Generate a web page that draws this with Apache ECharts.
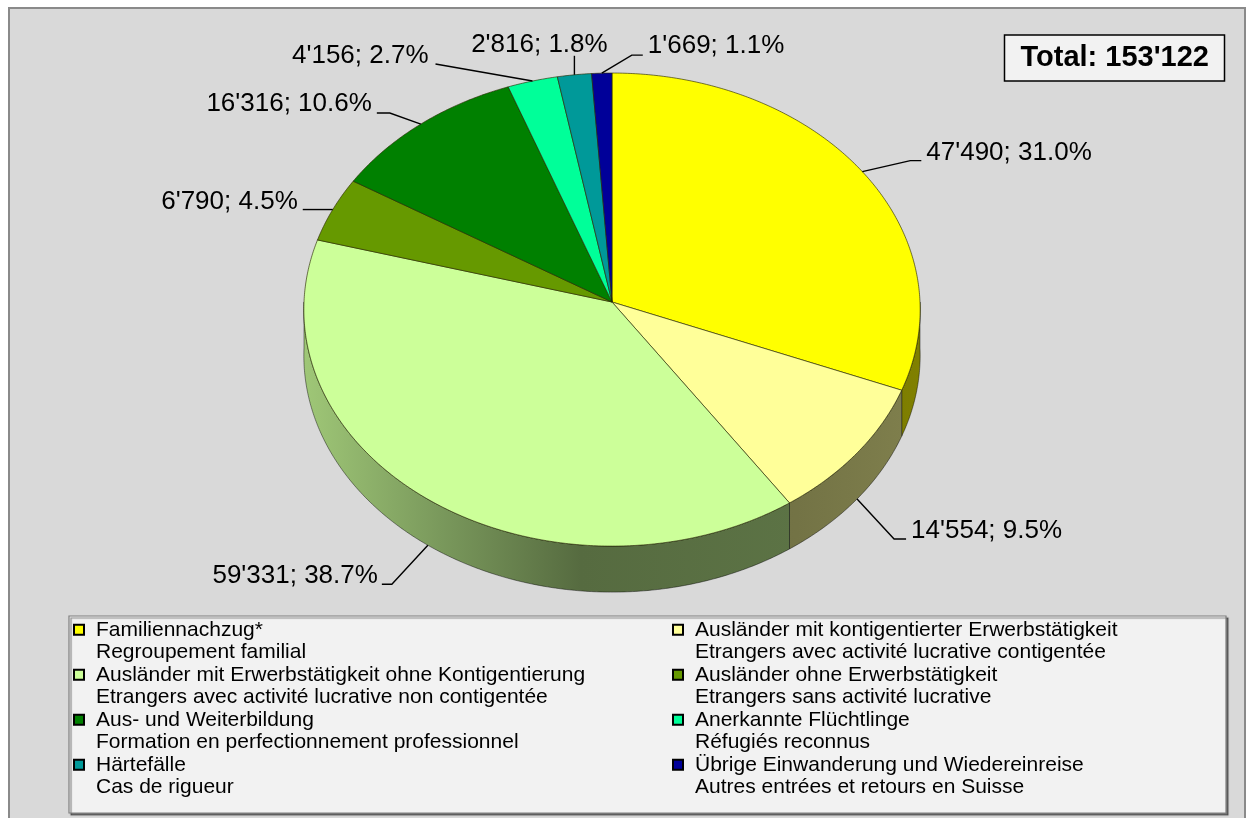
<!DOCTYPE html>
<html>
<head>
<meta charset="utf-8">
<script src="https://cdn.jsdelivr.net/npm/echarts@6/dist/echarts.min.js"></script>
<style>
  html, body { margin: 0; padding: 0; background: #fff; }
  #chart { width: 1252px; height: 818px; }
</style>
</head>
<body>
<div id="chart"></div>
<script>
// categories (German / French)
const namesDe = [
  'Familiennachzug*',
  'Ausländer mit kontigentierter Erwerbstätigkeit',
  'Ausländer mit Erwerbstätigkeit ohne Kontigentierung',
  'Ausländer ohne Erwerbstätigkeit',
  'Aus- und Weiterbildung',
  'Anerkannte Flüchtlinge',
  'Härtefälle',
  'Übrige Einwanderung und Wiedereinreise'
];
const namesFr = [
  'Regroupement familial',
  'Etrangers avec activité lucrative contigentée',
  'Etrangers avec activité lucrative non contigentée',
  'Etrangers sans activité lucrative',
  'Formation en perfectionnement professionnel',
  'Réfugiés reconnus',
  'Cas de rigueur',
  'Autres entrées et retours en Suisse'
];
const values = [47490, 14554, 59331, 6790, 16316, 4156, 2816, 1669];
// percentages as printed on the chart
const shareLabels = [31.0, 9.5, 38.7, 4.5, 10.6, 2.7, 1.8, 1.1];
const colors = ['#ffff00', '#ffff99', '#ccff99', '#669900', '#008000', '#00ff99', '#009999', '#000099'];

// pie geometry (3d look)
const CX = 612, CY = 302, RX = 308, RY = 236.3, PERSP = 0.032, DEPTH = 46;
// label leader: elbow offset from anchor, tail length, text side, text offset
const labelNudge = [
  { dx: 48, dy: -11, tail: 11, align: 'left', tx: 5, ty: -8 },
  { dx: 37, dy: 40, tail: 12, align: 'left', tx: 5, ty: -8 },
  { dx: -36, dy: 39, tail: -10, align: 'right', tx: -4, ty: -8 },
  { dx: -30, dy: 0, tail: 0, align: 'right', tx: -5, ty: -8 },
  { dx: -31, dy: -11, tail: -13, align: 'right', tx: -5, ty: -9 },
  { dx: -97, dy: -17, tail: 0, align: 'right', tx: -7, ty: -8 },
  { dx: 0, dy: -19, tail: 0, align: 'center', tx: -35, ty: -11 },
  { dx: 30, dy: -18, tail: 11, align: 'left', tx: 5, ty: -9 }
];

const FONT = "'Liberation Sans', Arial, sans-serif";
const total = values.reduce((a, b) => a + b, 0);
const startFrac = [];
values.reduce((acc, v, i) => { startFrac[i] = acc / total; return acc + v; }, 0);

function fmt(v) {
  return String(v).replace(/\B(?=(\d{3})+(?!\d))/g, "'");
}

function proj(t, drop) {
  const u = Math.sin(t), v = -Math.cos(t);
  const s = 1 / (1 - PERSP * v);
  return [CX + RX * u * s, CY + RY * v * s + (drop || 0)];
}

function arc(t0, t1, drop) {
  const n = Math.max(2, Math.ceil((t1 - t0) / (Math.PI / 360)));
  const pts = [];
  for (let k = 0; k <= n; k++) pts.push(proj(t0 + (t1 - t0) * k / n, drop));
  return pts;
}

function shade(hex, f) {
  const n = parseInt(hex.slice(1), 16);
  const r = Math.round(((n >> 16) & 255) * f);
  const g = Math.round(((n >> 8) & 255) * f);
  const b = Math.round((n & 255) * f);
  return 'rgb(' + r + ',' + g + ',' + b + ')';
}

function sideFill(hex) {
  return new echarts.graphic.LinearGradient(CX - RX, 0, CX + RX, 0, [
    { offset: 0, color: shade(hex, 0.78) },
    { offset: 0.22, color: shade(hex, 0.6) },
    { offset: 0.45, color: shade(hex, 0.42) },
    { offset: 0.8, color: shade(hex, 0.45) },
    { offset: 1, color: shade(hex, 0.5) }
  ], true);
}

function renderSlice(i) {
  return function (params, api) {
    const a0 = startFrac[i] * 2 * Math.PI;
    const a1 = a0 + api.value(0) / total * 2 * Math.PI;
    const children = [];

    const s0 = Math.max(a0, Math.PI / 2), s1 = Math.min(a1, 1.5 * Math.PI);
    if (s1 > s0) {
      children.push({
        type: 'polygon',
        shape: { points: arc(s0, s1, 0).concat(arc(s0, s1, DEPTH).reverse()) },
        style: { fill: sideFill(colors[i]), stroke: 'rgba(0,0,0,0.55)', lineWidth: 0.8 }
      });
    }
    children.push({
      type: 'polygon',
      shape: { points: [[CX, CY]].concat(arc(a0, a1, 0)) },
      style: { fill: colors[i], stroke: 'rgba(40,40,0,0.7)', lineWidth: 0.9 }
    });

    const mid = (a0 + a1) / 2;
    const front = Math.cos(mid) < 0;
    const nd = labelNudge[i];
    const p0 = proj(mid, front ? DEPTH : 0);
    const p1 = [p0[0] + nd.dx, p0[1] + nd.dy];
    const p2 = [p1[0] + nd.tail, p1[1]];
    children.push({
      type: 'polyline',
      shape: { points: [p0, p1, p2] },
      style: { stroke: '#000', lineWidth: 1.4, fill: null }
    });
    children.push({
      type: 'text',
      style: {
        text: fmt(api.value(0)) + '; ' + shareLabels[i].toFixed(1) + '%',
        x: p2[0] + nd.tx,
        y: p2[1] + nd.ty,
        align: nd.align,
        verticalAlign: 'middle',
        fill: '#000',
        fontSize: 26,
        fontFamily: FONT
      }
    });
    return { type: 'group', children: children };
  };
}

const seriesNames = namesDe.map((d, i) => d + '\n' + namesFr[i]);

const series = values.map((v, i) => ({
  type: 'custom',
  name: seriesNames[i],
  coordinateSystem: 'none',
  silent: true,
  itemStyle: { color: colors[i] },
  data: [v],
  renderItem: renderSlice(i)
}));

// blank first line keeps the marker level with the German line
const legendBase = {
  orient: 'vertical',
  icon: 'rect',
  itemWidth: 10,
  itemHeight: 10,
  itemGap: -22.5,
  padding: 0,
  selectedMode: false,
  formatter: name => '\n' + name,
  itemStyle: { borderColor: '#000', borderWidth: 2 },
  textStyle: {
    fontFamily: FONT,
    fontSize: 21,
    lineHeight: 22.5,
    color: '#000',
    padding: [0, 0, 0, 7]
  }
};

const chart = echarts.init(document.getElementById('chart'));
chart.setOption({
  backgroundColor: '#fff',
  animation: false,
  title: {
    text: 'Total: ' + fmt(total),
    right: 27,
    top: 35,
    padding: [7, 16],
    backgroundColor: '#f2f2f2',
    borderColor: '#000',
    borderWidth: 1.5,
    textStyle: { fontFamily: FONT, fontSize: 29, fontWeight: 'bold', color: '#000', lineHeight: 32 }
  },
  legend: [
    Object.assign({}, legendBase, {
      left: 73, top: 596,
      data: seriesNames.filter((n, i) => i % 2 === 0)
    }),
    Object.assign({}, legendBase, {
      left: 672, top: 596,
      data: seriesNames.filter((n, i) => i % 2 === 1)
    })
  ],
  graphic: [
    {
      type: 'rect', z: -10, silent: true,
      shape: { x: 9, y: 8, width: 1236, height: 830 },
      style: { fill: '#d9d9d9', stroke: '#8a8a8a', lineWidth: 2 }
    },
    {
      type: 'rect', z: -9, silent: true,
      shape: { x: 69, y: 616, width: 1157, height: 197 },
      style: {
        fill: '#f2f2f2', stroke: '#7f7f7f', lineWidth: 1.2,
        shadowColor: 'rgba(0,0,0,0.45)', shadowOffsetX: 2, shadowOffsetY: 2, shadowBlur: 1
      }
    }
  ],
  series: series
});
</script>
</body>
</html>
